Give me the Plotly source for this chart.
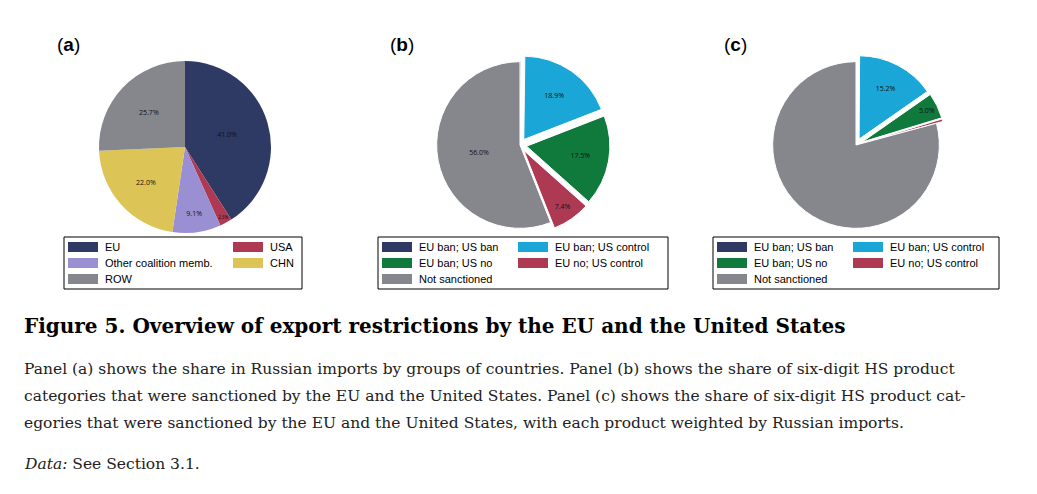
import plotly.graph_objects as go

# panel (a): share in Russian imports by country group
groups_a = ['EU', 'USA', 'Other coalition memb.', 'CHN', 'ROW']
share_a = [41.0, 2.3, 9.1, 22.0, 25.7]
colors_a = ['#2e3a64', '#ad3a52', '#9b8fd4', '#dcc457', '#85878c']

# panels (b) and (c): sanction status
status = ['EU ban; US ban', 'EU ban; US control', 'EU ban; US no', 'EU no; US control', 'Not sanctioned']
share_b = [0.2, 18.9, 17.5, 7.4, 56.0]
share_c = [0.1, 15.2, 5.0, 0.5, 79.2]
colors_s = ['#2e3a64', '#1aa6d6', '#10793c', '#ad3a52', '#85878c']
pull_b = [0, 0.08, 0.08, 0.08, 0]
pull_c = [0, 0.08, 0.08, 0.08, 0]
text_c = ['0.1%', '15.2%', '5.0%', '', '']

W, H = 1037, 494
OFF = 8  # page body margin


def px(x):
    return (x - OFF) / W


def py(y):
    return 1 - (y - OFF) / H


def dom(cx, cy, r):
    return dict(x=[px(cx - r), px(cx + r)], y=[py(cy + r), py(cy - r)])


fig = go.Figure()
fig.add_trace(go.Pie(
    labels=groups_a, values=share_a, sort=False, direction='clockwise', rotation=0,
    marker=dict(colors=colors_a, line=dict(color='white', width=0)),
    texttemplate='%{value:.1f}%', textposition='inside', insidetextorientation='horizontal',
    textfont=dict(size=7, color='#111'), domain=dom(185, 147, 86), hoverinfo='label+percent'))
fig.add_trace(go.Pie(
    labels=status, values=share_b, sort=False, direction='clockwise', rotation=0,
    pull=pull_b, marker=dict(colors=colors_s, line=dict(color='white', width=1)),
    texttemplate='%{value:.1f}%', textposition='inside', insidetextorientation='horizontal',
    textfont=dict(size=7, color='#111'), domain=dom(520, 145, 90), hoverinfo='label+percent'))
fig.add_trace(go.Pie(
    labels=status, values=share_c, sort=False, direction='clockwise', rotation=0,
    pull=pull_c, marker=dict(colors=colors_s, line=dict(color='white', width=1)),
    text=text_c, textinfo='text', textposition='inside', insidetextorientation='horizontal',
    textfont=dict(size=7, color='#111'), domain=dom(856, 145, 90), hoverinfo='label+percent'))

sans = 'Liberation Sans, Arial'
serif = 'DejaVu Serif, serif'


# legends drawn as boxes, two columns
def draw_legend(x0, x1, col2, labels, colors):
    fig.add_shape(type='rect', xref='paper', yref='paper', x0=px(x0), x1=px(x1),
                  y0=py(289), y1=py(237), line=dict(color='black', width=1), fillcolor='white')
    for i, (lab, col) in enumerate(zip(labels, colors)):
        sx = x0 + 4 if i % 2 == 0 else col2
        sy = 247 + 16 * (i // 2)
        fig.add_shape(type='rect', xref='paper', yref='paper', x0=px(sx), x1=px(sx + 30),
                      y0=py(sy + 5), y1=py(sy - 5), line=dict(width=0), fillcolor=col)
        fig.add_annotation(text=lab, x=px(sx + 35), y=py(sy), xref='paper', yref='paper',
                           xanchor='left', yanchor='middle', showarrow=False,
                           font=dict(family=sans, size=11, color='black'))


draw_legend(64, 302, 233, groups_a, colors_a)
draw_legend(378, 668, 518, status, colors_s)
draw_legend(713, 999, 853, status, colors_s)

fig.update_layout(width=W, height=H, margin=dict(l=0, r=0, t=0, b=0),
                  paper_bgcolor='white', plot_bgcolor='white', showlegend=False)

for lab, x in [('(<b>a</b>)', 55), ('(<b>b</b>)', 388), ('(<b>c</b>)', 722)]:
    fig.add_annotation(text=lab, x=px(x), y=py(44), xref='paper', yref='paper',
                       xanchor='left', yanchor='middle', showarrow=False,
                       font=dict(family=sans, size=19, color='black'))

fig.add_annotation(text='<b>Figure 5. Overview of export restrictions by the EU and the United States</b>',
                   x=px(22), y=py(326), xref='paper', yref='paper', xanchor='left', yanchor='middle',
                   showarrow=False, font=dict(family=serif, size=20, color='black'))

body = [
    ('Panel (a) shows the share in Russian imports by groups of countries. Panel (b) shows the share of six-digit HS product', 369),
    ('categories that were sanctioned by the EU and the United States. Panel (c) shows the share of six-digit HS product cat-', 396),
    ('egories that were sanctioned by the EU and the United States, with each product weighted by Russian imports.', 423),
    ('<i>Data:</i> See Section 3.1.', 464),
]
for txt, y in body:
    fig.add_annotation(text=txt, x=px(22), y=py(y), xref='paper', yref='paper',
                       xanchor='left', yanchor='middle', showarrow=False,
                       font=dict(family=serif, size=15.5, color='#222'))

fig.write_html('out.html')
